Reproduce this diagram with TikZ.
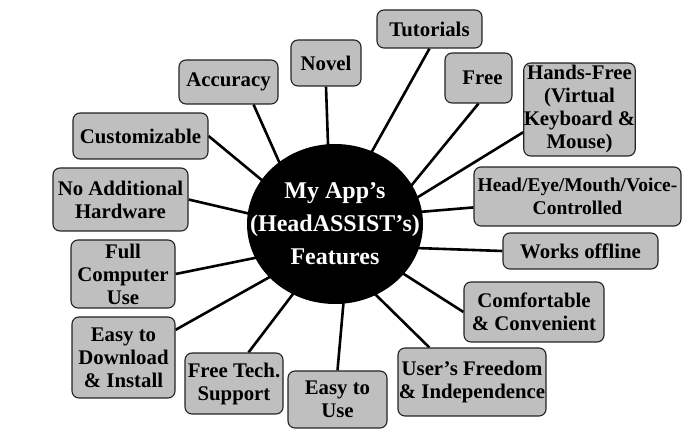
\documentclass[tikz,border=0pt]{standalone}
\usepackage{fontspec}
\setmainfont{Liberation Serif}
\usetikzlibrary{shapes.geometric,backgrounds}
\definecolor{boxgray}{RGB}{191,191,191}
\definecolor{edgegray}{RGB}{35,35,35}

\begin{document}
\begin{tikzpicture}[x=1pt, y=-1pt,
  feat/.style={draw=edgegray, line width=1.1pt, fill=boxgray, rounded corners=7pt, align=center, inner sep=0pt, font=\bfseries\fontsize{20.8}{23}\selectfont},
  spoke/.style={line width=2.6pt, black, shorten <=-4pt}]
  \useasboundingbox (0,0) rectangle (691,443);
  \node[ellipse, fill=black, minimum width=176pt, minimum height=160pt, inner sep=0pt,
    label={[text=white, align=center, font=\bfseries\fontsize{24}{33}\selectfont]center:My App’s\\(HeadASSIST’s)\\Features}] (hub) at (335,224) {};
  \node[feat, minimum width=105pt, minimum height=38pt] (tut) at (429.5,29) {Tutorials};
  \node[feat, minimum width=70pt, minimum height=46pt] (novel) at (326,63) {Novel};
  \node[feat, minimum width=99pt, minimum height=44pt] (acc) at (228.5,82) {Accuracy};
  \node[feat, minimum width=135pt, minimum height=46pt] (cust) at (140.5,136) {Customizable};
  \node[feat, minimum width=135pt, minimum height=63pt] (noadd) at (120.5,199.5) {No Additional\\Hardware};
  \node[feat, minimum width=104pt, minimum height=68pt] (full) at (123,274) {Full\\Computer\\Use};
  \node[feat, minimum width=103pt, minimum height=81pt] (down) at (123.5,357.5) {Easy to\\Download\\\& Install};
  \node[feat, minimum width=98pt, minimum height=61pt] (tech) at (234,383.5) {Free Tech.\\Support};
  \node[feat, minimum width=99pt, minimum height=57pt] (use) at (337.5,399.5) {Easy to\\Use};
  \node[feat, minimum width=148pt, minimum height=68pt] (indep) at (472,382) {User’s Freedom\\\& Independence};
  \node[feat, minimum width=140pt, minimum height=60pt] (comf) at (534,312) {Comfortable\\\& Convenient};
  \node[feat, minimum width=155pt, minimum height=36pt] (offline) at (580.5,251) {Works offline};
  \node[feat, minimum width=207pt, minimum height=59pt, font=\bfseries\fontsize{19.5}{23}\selectfont] (head) at (577.5,196.5) {Head/Eye/Mouth/Voice-\\Controlled};
  \node[feat, minimum width=111pt, minimum height=93pt] (hands) at (579.5,109.5) {Hands-Free\\(Virtual\\Keyboard \&\\Mouse)};
  \node[feat, minimum width=67pt, minimum height=50pt] (free) at (478.5,78) {\hspace*{8pt}Free};
  \begin{scope}[on background layer]
    \draw[spoke] (hub.63) -- (tut.south);
    \draw[spoke] (hub.95) -- (novel.south);
    \draw[spoke] (hub.132) -- (acc.-42);
    \draw[spoke] (hub.149) -- (cust.east);
    \draw[spoke] (hub.173) -- (noadd.east);
    \draw[spoke] (hub.203) -- (full.east);
    \draw[spoke] (hub.219) -- (down.28);
    \draw[spoke] (hub.239) -- (tech.65);
    \draw[spoke] (hub.276) -- (use.north);
    \draw[spoke] (hub.300) -- (indep.141);
    \draw[spoke] (hub.324) -- (comf.west);
    \draw[spoke] (hub.344) -- (offline.west);
    \draw[spoke] (hub.8) -- (head.186);
    \draw[spoke] (hub.18) -- (hands.202);
    \draw[spoke] (hub.27) -- (free.south);
  \end{scope}
\end{tikzpicture}
\end{document}
